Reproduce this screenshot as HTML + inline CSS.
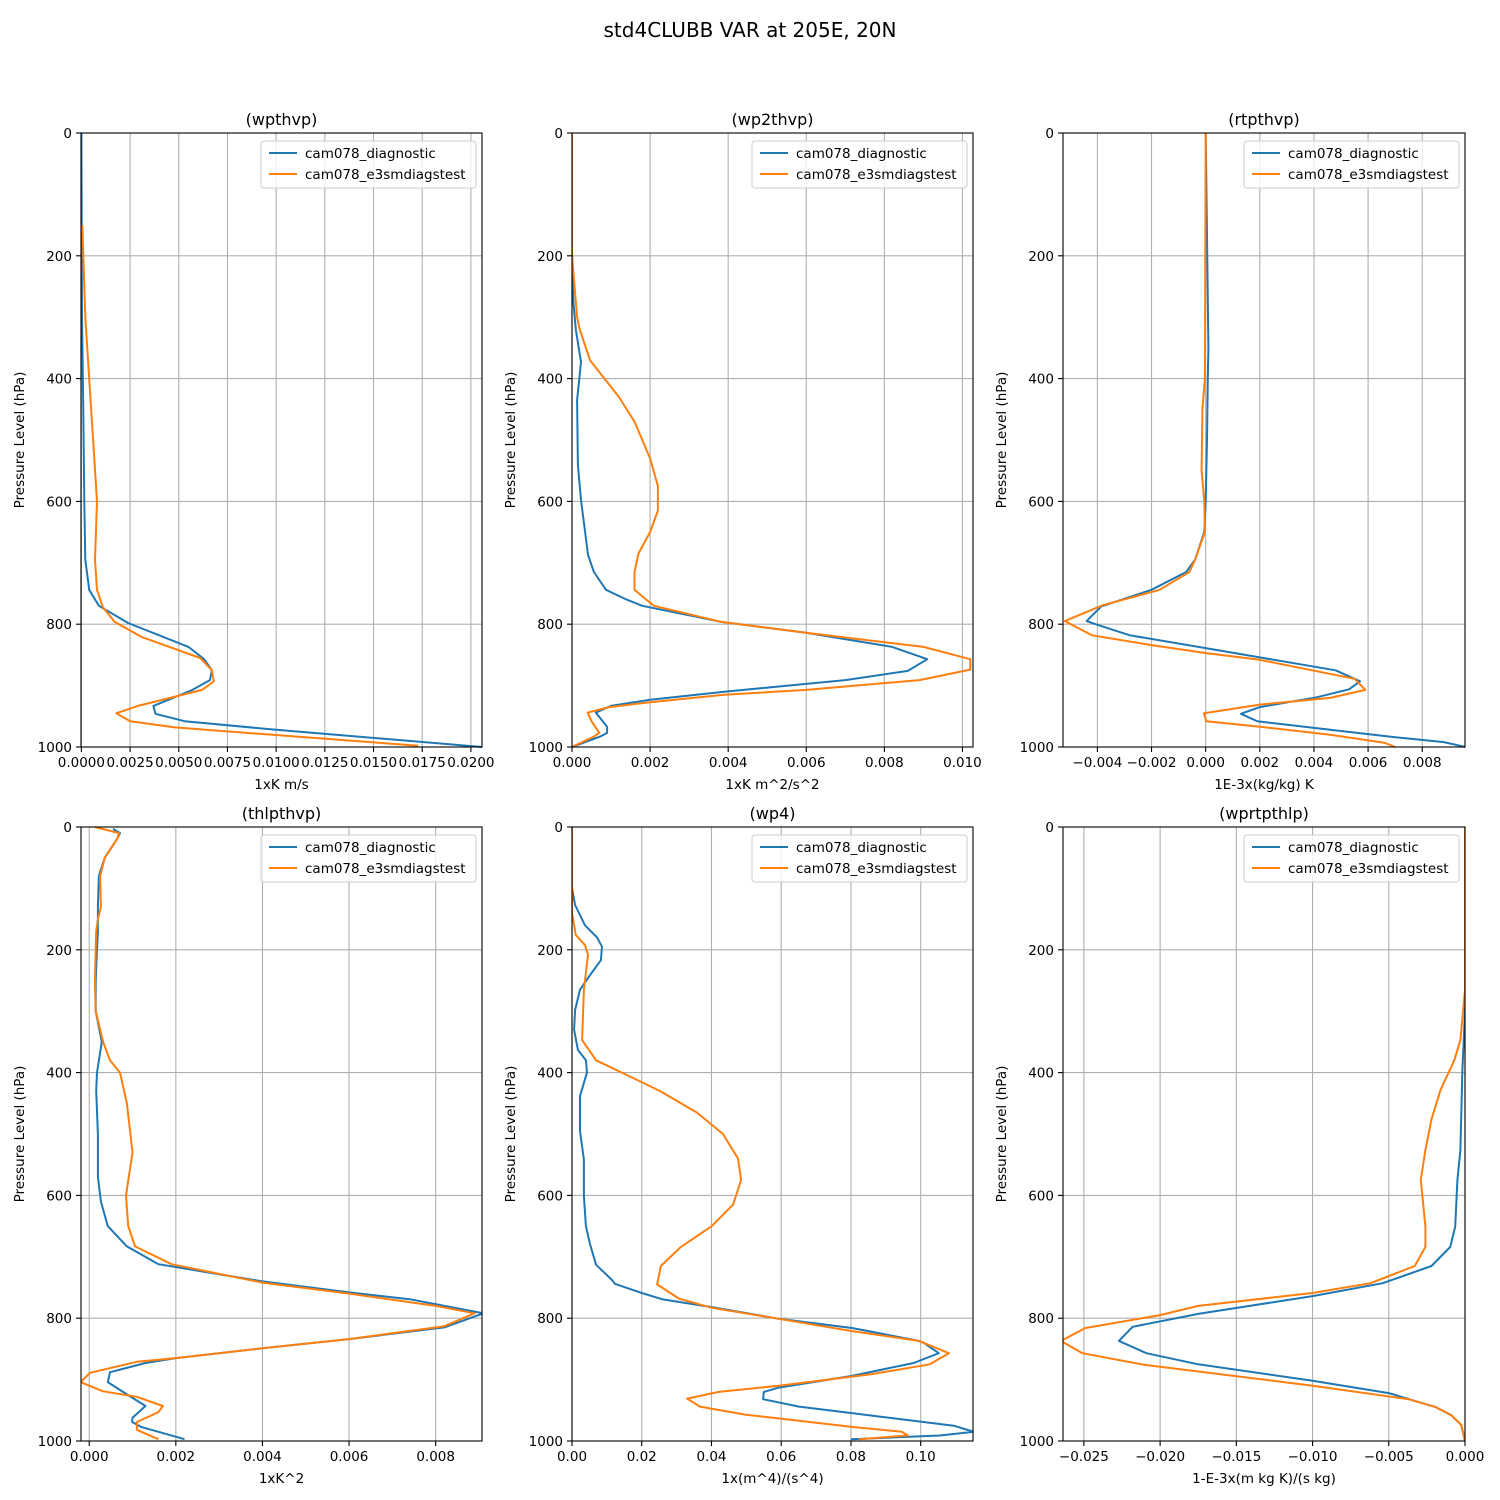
<!DOCTYPE html>
<html><head><meta charset="utf-8"><style>
html,body{margin:0;padding:0;background:#fff}
svg{display:block;font-family:"DejaVu Sans","Liberation Sans",sans-serif}
</style></head><body>
<svg id="fig" width="1500" height="1500" viewBox="0 0 1500 1500">
<rect width="1500" height="1500" fill="#fff"/>
<text x="750" y="37" text-anchor="middle" font-size="20">std4CLUBB VAR at 205E, 20N</text>
</svg>
<script>
// ---- data: pressure levels (hPa) and values ----
const p1BlueP=[0,300,450,600,695,744,770,798,837,857,875,891,907,920,933,946,958,972,1000];
const p1BlueV=[0,0.00003,0.0001,0.00015,0.0002,0.0004,0.0009,0.0024,0.0055,0.0063,0.0067,0.0066,0.0057,0.0047,0.0037,0.0038,0.0053,0.01,0.0206];
const p1OrangeP=[150,200,300,400,500,600,695,744,772,796,821,855,875,893,907,922,933,945,958,968,998];
const p1OrangeV=[0.00005,0.0001,0.0002,0.0004,0.0006,0.0008,0.0007,0.0008,0.0011,0.0017,0.0031,0.0061,0.0067,0.0068,0.0062,0.0043,0.0029,0.0018,0.0025,0.0048,0.0173];

const p2BlueP=[0,190,272,321,373,435,541,598,647,687,715,744,760,770,796,814,837,857,876,891,910,923,933,944,967,977,983,1000];
const p2BlueV=[0,0,0.00003,0.0001,0.00023,0.00013,0.00015,0.00023,0.00033,0.00041,0.00056,0.00087,0.0014,0.0018,0.0038,0.006,0.0082,0.0091,0.0086,0.007,0.0039,0.002,0.001,0.00061,0.0009,0.0009,0.00072,0];
const p2OrangeP=[0,200,300,320,370,430,470,530,575,615,650,685,715,744,760,770,796,814,837,857,874,891,907,915,927,935,944,958,977,983,1000];
const p2OrangeV=[0,0,0.00013,0.0002,0.00046,0.0012,0.0016,0.002,0.0022,0.0022,0.002,0.0017,0.0016,0.0016,0.0019,0.0021,0.0038,0.006,0.009,0.0102,0.0102,0.0089,0.006,0.0039,0.002,0.00095,0.0004,0.0005,0.0007,0.00056,0];

const p3BlueP=[0,350,400,500,600,650,695,715,744,771,795,801,818,839,854,875,893,906,919,935,946,958,972,984,992,1000];
const p3BlueV=[0,0.0001,0.00008,0.00005,0,-0.00005,-0.00039,-0.00072,-0.002,-0.00386,-0.0044,-0.004,-0.0028,0,0.002,0.0048,0.0057,0.0053,0.0041,0.002,0.0013,0.0019,0.0046,0.007,0.0088,0.0096];
const p3OrangeP=[0,400,450,550,600,650,695,715,744,769,795,818,834,847,858,889,907,920,931,945,958,967,980,993,1000];
const p3OrangeV=[0,-0.00003,-0.00012,-0.00015,-0.00005,-0.00003,-0.00039,-0.0006,-0.0017,-0.0038,-0.0052,-0.0042,-0.002,0.00002,0.002,0.0055,0.0059,0.0046,0.002,-0.00006,0.00002,0.002,0.0046,0.0066,0.007];

const p4BlueP=[3,10,20,50,80,130,170,200,250,300,350,400,430,500,570,610,650,683,712,740,758,769,792,815,834,849,865,873,888,904,920,943,962,969,977,997];
const p4BlueV=[0.00055,0.00071,0.00064,0.00036,0.00022,0.0002,0.0002,0.00018,0.00015,0.00015,0.00029,0.00018,0.00016,0.0002,0.0002,0.00027,0.00043,0.00087,0.0016,0.004,0.006,0.0074,0.0091,0.0082,0.006,0.004,0.002,0.0013,0.00048,0.00043,0.00078,0.0013,0.001,0.00099,0.0012,0.0022];
const p4OrangeP=[0,10,20,50,80,130,150,170,200,250,300,350,380,400,450,530,600,650,683,712,742,760,780,792,813,834,849,865,871,889,904,919,928,943,953,969,982,997];
const p4OrangeV=[0.00013,0.00069,0.00064,0.00036,0.00025,0.00027,0.0002,0.00016,0.00015,0.00013,0.00015,0.00032,0.00048,0.00071,0.00087,0.001,0.00085,0.0009,0.00106,0.0019,0.004,0.006,0.008,0.0089,0.0082,0.006,0.004,0.002,0.0011,0.00002,-0.0002,0.00032,0.0011,0.0017,0.0016,0.0011,0.0011,0.0016];

const p5BlueP=[0,100,127,160,180,195,217,241,265,298,330,363,380,400,438,495,542,601,650,680,713,738,744,759,769,782,801,816,837,840,857,873,894,913,920,932,944,954,975,985,991,997];
const p5BlueV=[0,0,0.0009,0.0037,0.0072,0.0086,0.0083,0.0052,0.0023,0.0009,0.0006,0.0017,0.004,0.0043,0.0023,0.0023,0.0034,0.0034,0.004,0.0052,0.0069,0.0115,0.0123,0.02,0.0258,0.0401,0.0593,0.0803,0.0995,0.1009,0.1052,0.098,0.0803,0.0593,0.055,0.0548,0.0651,0.0794,0.1095,0.1152,0.1055,0.08];
const p5OrangeP=[0,140,176,192,208,265,347,380,400,430,465,500,540,575,615,650,685,715,745,768,783,801,821,837,857,875,891,910,920,931,944,957,977,985,991,997];
const p5OrangeV=[0,0,0.0011,0.0037,0.0046,0.0034,0.0029,0.0069,0.0143,0.0252,0.0358,0.0433,0.0476,0.0485,0.0462,0.0401,0.031,0.0255,0.0244,0.0307,0.0401,0.0593,0.0803,0.0995,0.1081,0.1026,0.086,0.0593,0.0421,0.033,0.0367,0.0496,0.0803,0.0946,0.0963,0.0823];

const p6BlueP=[0,300,400,526,575,651,684,715,743,764,793,814,837,857,875,902,922,933,945,958,974,1000];
const p6BlueV=[0,0,-0.00018,-0.0003,-0.0005,-0.00064,-0.00097,-0.0022,-0.0054,-0.01,-0.0175,-0.0218,-0.0227,-0.0209,-0.0175,-0.01,-0.005,-0.0035,-0.0019,-0.0009,-0.00024,0];
const p6OrangeP=[0,265,347,380,428,476,526,575,651,684,715,743,759,780,795,816,837,857,876,910,932,945,958,974,1000];
const p6OrangeV=[0,0,-0.0003,-0.0007,-0.0016,-0.0022,-0.0026,-0.0029,-0.0026,-0.0026,-0.0033,-0.0062,-0.01,-0.0175,-0.02,-0.0249,-0.0265,-0.0251,-0.021,-0.01,-0.0037,-0.0019,-0.0009,-0.00024,0];

const yTicks=[0,200,400,600,800,1000];
const seriesNames=["cam078_diagnostic","cam078_e3smdiagstest"];
const panelTitles=["(wpthvp)","(wp2thvp)","(rtpthvp)","(thlpthvp)","(wp4)","(wprtpthlp)"];
const xLabels=["1xK m/s","1xK m^2/s^2","1E-3x(kg/kg) K","1xK^2","1x(m^4)/(s^4)","1-E-3x(m kg K)/(s kg)"];
const xTicks1=[0,0.0025,0.005,0.0075,0.01,0.0125,0.015,0.0175,0.02];
const xTicks2=[0,0.002,0.004,0.006,0.008,0.01];
const xTicks3=[-0.004,-0.002,0,0.002,0.004,0.006,0.008];
const xTicks4=[0,0.002,0.004,0.006,0.008];
const xTicks5=[0,0.02,0.04,0.06,0.08,0.10];
const xTicks6=[-0.025,-0.02,-0.015,-0.01,-0.005,0];

const NS="http://www.w3.org/2000/svg";
const svg=document.getElementById('fig');
function mk(tag,attrs,parent){const e=document.createElementNS(NS,tag);for(const k in attrs)e.setAttribute(k,attrs[k]);(parent||svg).appendChild(e);return e;}
function fmt(v,d){let s=v.toFixed(d);if(parseFloat(s)===0)s=(0).toFixed(d);return s.replace('-','\u2212');}

const panels=[
 {L:81,T:133,W:401,xmin:-0.00002,xmax:0.02057,ticks:xTicks1,dec:4,bp:p1BlueP,bv:p1BlueV,op:p1OrangeP,ov:p1OrangeV},
 {L:572,T:133,W:401,xmin:0,xmax:0.01027,ticks:xTicks2,dec:3,bp:p2BlueP,bv:p2BlueV,op:p2OrangeP,ov:p2OrangeV},
 {L:1063,T:133,W:402,xmin:-0.00527,xmax:0.00958,ticks:xTicks3,dec:3,bp:p3BlueP,bv:p3BlueV,op:p3OrangeP,ov:p3OrangeV},
 {L:81,T:827,W:401,xmin:-0.00019,xmax:0.00907,ticks:xTicks4,dec:3,bp:p4BlueP,bv:p4BlueV,op:p4OrangeP,ov:p4OrangeV},
 {L:572,T:827,W:401,xmin:0,xmax:0.115,ticks:xTicks5,dec:2,bp:p5BlueP,bv:p5BlueV,op:p5OrangeP,ov:p5OrangeV},
 {L:1063,T:827,W:402,xmin:-0.02637,xmax:0,ticks:xTicks6,dec:3,bp:p6BlueP,bv:p6BlueV,op:p6OrangeP,ov:p6OrangeV}
];
const H=614;
panels.forEach((P,i)=>{
  const g=mk('g',{});
  
  
  const xs=v=>P.L+(v-P.xmin)/(P.xmax-P.xmin)*P.W;
  const ys=p=>P.T+p/1000*H;
  const B=P.T+H;
  P.ticks.forEach(t=>{const x=xs(t);
    const gl=mk('line',{x1:x,x2:x,y1:P.T,y2:B,stroke:'#b0b0b0','stroke-width':1.1},g);
    
    
    mk('line',{x1:x,x2:x,y1:B,y2:B+5,stroke:'#000','stroke-width':1.1},g);
    const tl=mk('text',{x:x,y:B+20,'text-anchor':'middle','font-size':13.5},g);
    tl.textContent=fmt(t,P.dec);
    
    
  });
  yTicks.forEach(t=>{const y=ys(t);
    const gl=mk('line',{x1:P.L,x2:P.L+P.W,y1:y,y2:y,stroke:'#b0b0b0','stroke-width':1.1},g);
    
    
    mk('line',{x1:P.L-5,x2:P.L,y1:y,y2:y,stroke:'#000','stroke-width':1.1},g);
    const tl=mk('text',{x:P.L-9,y:y+5,'text-anchor':'end','font-size':13.5},g);
    tl.textContent=String(t);
    
    
  });
  const cp=mk('clipPath',{id:'c'+i},g);
  mk('rect',{x:P.L,y:P.T-2,width:P.W,height:H+4},cp);
  [[P.bp,P.bv,'#1f77b4','series-diagnostic'],[P.op,P.ov,'#ff7f0e','series-e3smdiagstest']].forEach(s=>{
    const pts=s[0].map((p,k)=>xs(s[1][k]).toFixed(1)+','+ys(p).toFixed(1)).join(' ');
    const pl=mk('polyline',{points:pts,fill:'none',stroke:s[2],'stroke-width':2,'stroke-linejoin':'round','clip-path':'url(#c'+i+')'},g);
    
    
  });
  const fr=mk('rect',{x:P.L,y:P.T,width:P.W,height:H,fill:'none',stroke:'#000','stroke-width':1.1},g);
  
  
  const ti=mk('text',{x:P.L+P.W/2,y:P.T-8,'text-anchor':'middle','font-size':16},g);
  ti.textContent=panelTitles[i];
  
  
  const xl=mk('text',{x:P.L+P.W/2,y:B+42,'text-anchor':'middle','font-size':13.5},g);
  xl.textContent=xLabels[i];
  
  
  const yx=P.L-57, yy=P.T+H/2;
  const yl=mk('text',{x:yx,y:yy,'text-anchor':'middle','font-size':13.5,transform:'rotate(-90 '+yx+' '+yy+')'},g);
  yl.textContent='Pressure Level (hPa)';
  
  
  const lx=P.L+P.W-221, ly=P.T+8;
  const lg=mk('g',{},g);
  
  
  mk('rect',{x:lx,y:ly,width:215,height:47,rx:3,fill:'#fff','fill-opacity':0.8,stroke:'#ccc','stroke-width':1},lg);
  ['#1f77b4','#ff7f0e'].forEach((c,k)=>{
    const yy2=ly+12+k*21;
    const e=mk('g',{},lg);
    
    
    mk('line',{x1:lx+8,x2:lx+36,y1:yy2,y2:yy2,stroke:c,'stroke-width':2},e);
    const t=mk('text',{x:lx+44,y:yy2+5,'font-size':13.5},e);
    t.textContent=seriesNames[k];
  });
});
</script>
</body></html>
